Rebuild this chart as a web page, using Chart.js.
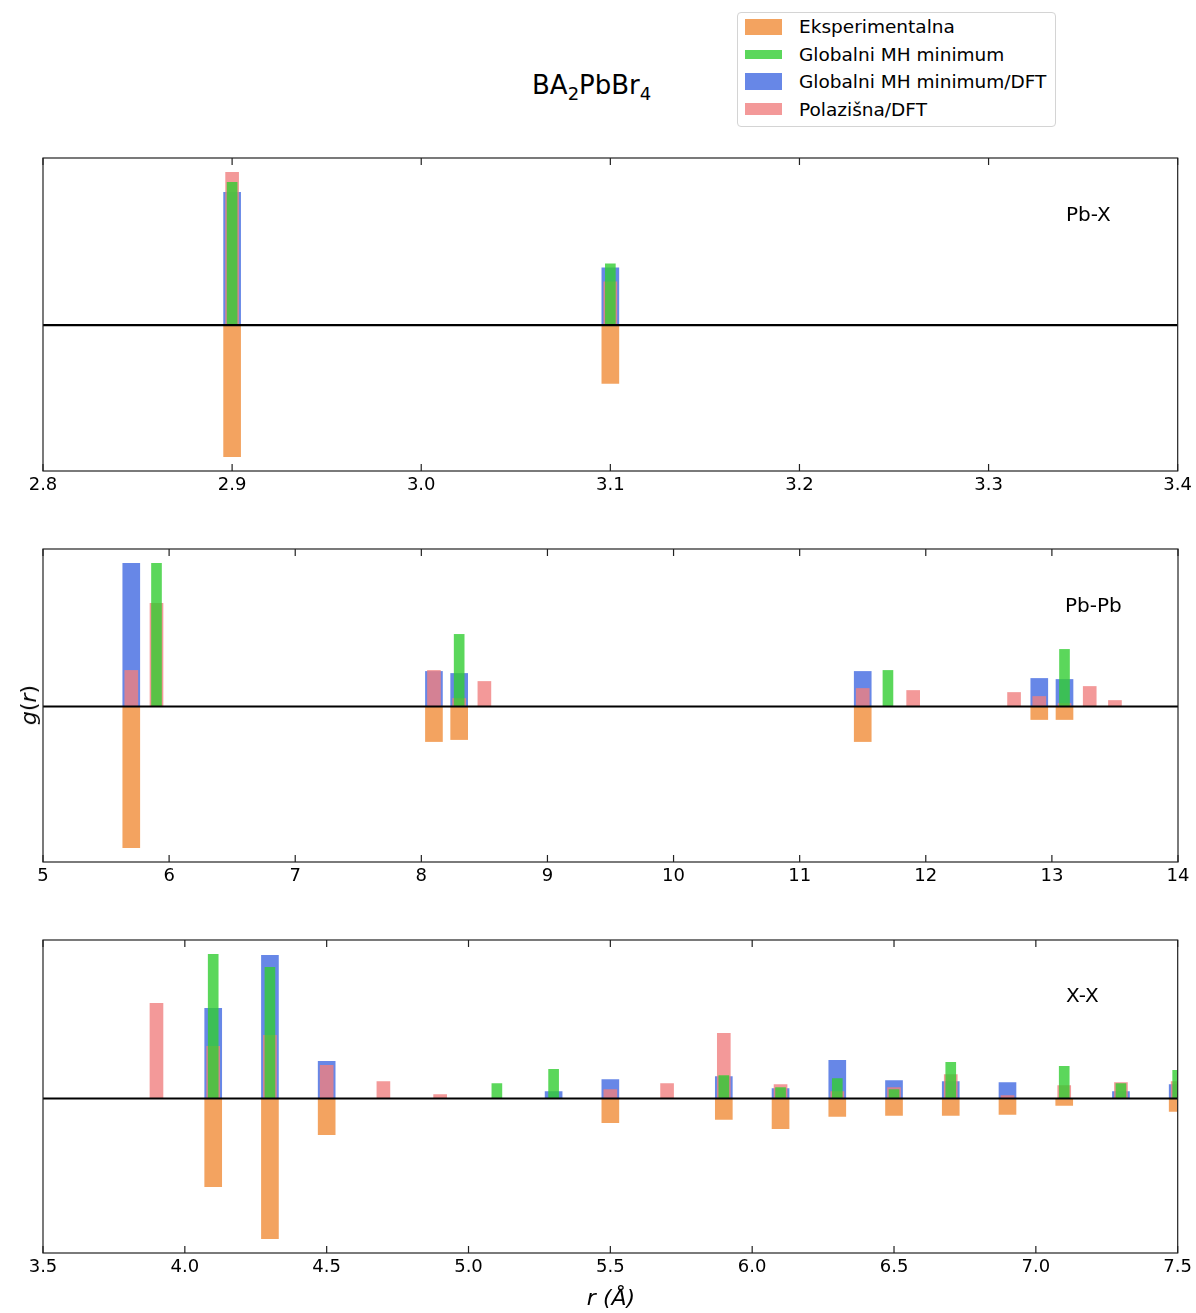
<!DOCTYPE html>
<html>
<head>
<meta charset="utf-8">
<script src="https://cdn.jsdelivr.net/npm/chart.js@4.4.0/dist/chart.umd.min.js"></script>
<style>
  body { margin: 0; background: #fff; font-family: "DejaVu Sans", sans-serif; color: #000; }
  #page { position: relative; width: 1196px; height: 1313px; overflow: hidden; }
  .panel { position: absolute; left: 0; }
  .txt { position: absolute; white-space: nowrap; }
  #legend { position: absolute; left: 737px; top: 12px; width: 317px; height: 113px;
            border: 1px solid #d4d4d4; border-radius: 4px; background: #fff; }
</style>
</head>
<body>
<div id="page">
  <div class="txt" style="left:532px; top:72px; font-size:26px; line-height:26px;">BA<span style="font-size:18px; position:relative; top:6px;">2</span>PbBr<span style="font-size:18px; position:relative; top:6px;">4</span></div>
  <div id="legend"></div>

  <canvas id="c1" class="panel" width="1196" height="363" style="top:148px"></canvas>
  <canvas id="c2" class="panel" width="1196" height="363" style="top:539px"></canvas>
  <canvas id="c3" class="panel" width="1196" height="363" style="top:930px"></canvas>

  <div class="txt" style="left:1066px; top:204px; font-size:20px; line-height:20px;">Pb-X</div>
  <div class="txt" style="left:1065px; top:595px; font-size:20px; line-height:20px;">Pb-Pb</div>
  <div class="txt" style="left:1066px; top:985px; font-size:20px; line-height:20px;">X-X</div>

  <div class="txt" style="left:29px; top:705px; font-size:22px; line-height:22px; transform:translate(-50%,-50%) rotate(-90deg);"><i>g</i>(<i>r</i>)</div>
  <div class="txt" style="left:611px; top:1298px; font-size:22px; line-height:22px; transform:translate(-50%,-50%); font-style:italic;">r (Å)</div>
</div>

<script>
// serije
const seriesNames = ['Eksperimentalna', 'Globalni MH minimum', 'Globalni MH minimum/DFT', 'Polazišna/DFT'];
const seriesColors = ['rgba(243,163,96,1)', 'rgba(50,205,50,0.8)', 'rgba(65,105,225,0.8)', 'rgba(240,128,128,0.8)'];
const barWidths = [17, 10, 17, 13];
const patchHeights = [16, 9, 17, 12];
const drawOrder = [4, 1, 3, 2]; // zelena navrh

// Pb-X
const pbxR = [2.9, 3.1];
const pbxEksp = [1.31, 0.58];
const pbxMH = [1.42, 0.61];
const pbxMHDFT = [1.32, 0.57];
const pbxPol = [1.52, 0.43];

// Pb-Pb
const pbpbR = [5.7, 5.9, 8.1, 8.3, 8.5, 11.5, 11.7, 11.9, 12.7, 12.9, 13.1, 13.3, 13.5];
const pbpbEksp = [1.41, 0, 0.35, 0.33, 0, 0.35, 0, 0, 0, 0.13, 0.13, 0, 0];
const pbpbMH = [0, 1.43, 0, 0.72, 0, 0, 0.36, 0, 0, 0, 0.57, 0, 0];
const pbpbMHDFT = [1.43, 0, 0.35, 0.33, 0, 0.35, 0, 0, 0, 0.28, 0.27, 0, 0];
const pbpbPol = [0.36, 1.03, 0.36, 0.08, 0.25, 0.18, 0, 0.16, 0.14, 0.10, 0.03, 0.20, 0.06];

// X-X
const xxR = [3.9, 4.1, 4.3, 4.5, 4.7, 4.9, 5.1, 5.3, 5.5, 5.7, 5.9, 6.1, 6.3, 6.5, 6.7, 6.9, 7.1, 7.3, 7.5];
const xxEksp = [0, 0.88, 1.40, 0.36, 0, 0, 0, 0, 0.24, 0, 0.21, 0.30, 0.18, 0.17, 0.17, 0.16, 0.07, 0, 0.13];
const xxMH = [0, 1.44, 1.31, 0, 0, 0, 0.15, 0.29, 0, 0, 0.23, 0.11, 0.20, 0.09, 0.36, 0, 0.32, 0.15, 0.28];
const xxMHDFT = [0, 0.90, 1.43, 0.37, 0, 0, 0, 0.07, 0.19, 0, 0.22, 0.10, 0.38, 0.18, 0.17, 0.16, 0, 0.07, 0.14];
const xxPol = [0.95, 0.52, 0.63, 0.33, 0.17, 0.04, 0, 0, 0.09, 0.15, 0.65, 0.14, 0.07, 0.11, 0.24, 0.03, 0.13, 0.16, 0.17];

Chart.defaults.font.family = 'DejaVu Sans';
Chart.defaults.color = '#000';

// legenda (y centri u koordinatama stranice)
const legend = document.getElementById('legend');
const legendY = [26.8, 54.3, 81.8, 109.3];
seriesNames.forEach((name, i) => {
  const cy = legendY[i] - 13;
  const patch = document.createElement('div');
  patch.style.cssText = `position:absolute; left:7px; width:37px; top:${cy - patchHeights[i] / 2}px; height:${patchHeights[i]}px; background:${seriesColors[i]};`;
  const label = document.createElement('div');
  label.style.cssText = `position:absolute; left:61px; top:${cy - 9.7}px; font-size:18.5px; line-height:20px; white-space:nowrap;`;
  label.textContent = name;
  legend.appendChild(patch);
  legend.appendChild(label);
});

// okvir, nulta linija, crtice prema unutra
const framePlugin = {
  id: 'frame',
  afterDatasetsDraw(chart) {
    const { ctx, chartArea: a, scales: { x, y } } = chart;
    ctx.save();
    const y0 = y.getPixelForValue(0);
    ctx.strokeStyle = '#000';
    ctx.lineWidth = 2.2;
    ctx.beginPath();
    ctx.moveTo(a.left, y0);
    ctx.lineTo(a.right, y0);
    ctx.stroke();

    ctx.strokeStyle = '#222';
    ctx.lineWidth = 1.2;
    ctx.strokeRect(a.left, a.top, a.right - a.left, a.bottom - a.top);
    x.ticks.forEach(t => {
      const px = x.getPixelForValue(t.value);
      ctx.beginPath();
      ctx.moveTo(px, a.bottom);
      ctx.lineTo(px, a.bottom - 7);
      ctx.moveTo(px, a.top);
      ctx.lineTo(px, a.top + 7);
      ctx.stroke();
    });
    ctx.restore();
  }
};

function makePanel(id, r, eksp, mh, mhdft, pol, xMin, xMax, step, dec) {
  const values = [eksp.map(v => -v), mh, mhdft, pol];
  const hi = Math.max(...mh, ...mhdft, ...pol);
  const lo = -Math.max(...eksp);
  const pad = 0.05 * (hi - lo);

  const datasets = values.map((vals, i) => ({
    label: seriesNames[i],
    data: r.map((x, k) => ({ x: x, y: vals[k] })),
    backgroundColor: seriesColors[i],
    borderWidth: 0,
    barThickness: barWidths[i],
    grouped: false,
    order: drawOrder[i]
  }));

  return new Chart(document.getElementById(id), {
    type: 'bar',
    data: { datasets },
    options: {
      responsive: false,
      animation: false,
      devicePixelRatio: 1,
      layout: { padding: { left: 43, right: 18, top: 10, bottom: 0 } },
      plugins: { legend: { display: false }, tooltip: { enabled: false } },
      scales: {
        x: {
          type: 'linear',
          min: xMin,
          max: xMax,
          offset: false,
          grid: { display: false, drawTicks: false },
          border: { display: false },
          ticks: {
            stepSize: step,
            autoSkip: false,
            maxRotation: 0,
            padding: 4,
            color: '#000',
            font: { size: 18 },
            callback: v => Number(v).toFixed(dec)
          },
          afterFit: s => { s.height = 40; }
        },
        y: { display: false, min: lo - pad, max: hi + pad }
      }
    },
    plugins: [framePlugin]
  });
}

makePanel('c1', pbxR, pbxEksp, pbxMH, pbxMHDFT, pbxPol, 2.8, 3.4, 0.1, 1);
makePanel('c2', pbpbR, pbpbEksp, pbpbMH, pbpbMHDFT, pbpbPol, 5, 14, 1, 0);
makePanel('c3', xxR, xxEksp, xxMH, xxMHDFT, xxPol, 3.5, 7.5, 0.5, 1);
</script>
</body>
</html>
